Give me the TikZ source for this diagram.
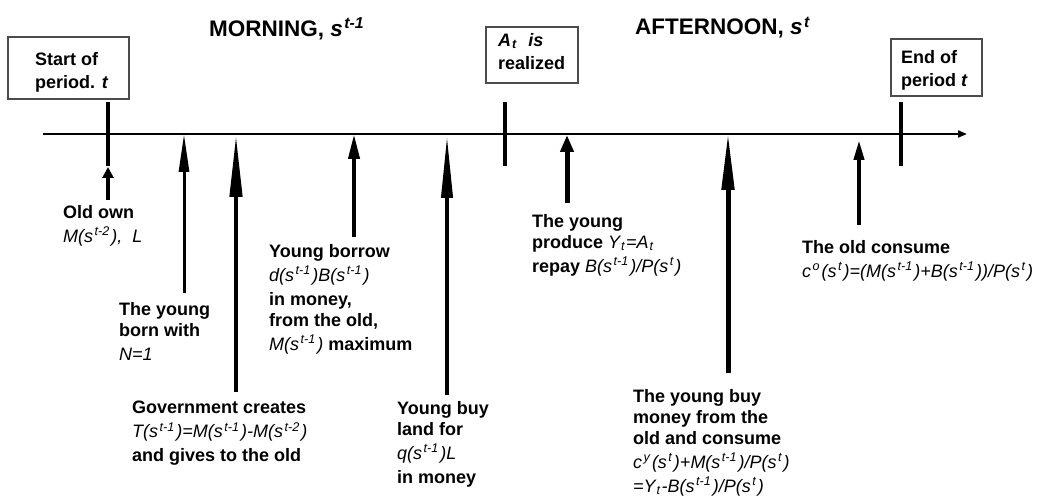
\documentclass[tikz,border=0pt]{standalone}
\usepackage{fontspec}
\setmainfont{Liberation Sans}
\usetikzlibrary{arrows.meta,positioning}

\newcommand{\tsup}[1]{\kern1.5pt\textsuperscript{#1}\kern1.5pt}
\newcommand{\tsub}[1]{\kern1pt\textsubscript{#1}\kern1pt}
\newcommand{\fm}[1]{{\mdseries\itshape #1}}

\begin{document}
\begin{tikzpicture}[x=1pt,y=-1pt,
  every node/.style={font=\fontsize{18}{21}\selectfont\bfseries},
  box/.style={draw=black!70,line width=1.2pt,inner sep=0pt},
  lbl/.style={align=left,anchor=north west,inner sep=0pt},
  head/.style={font=\fontsize{22.5}{24}\selectfont\bfseries,anchor=base west,inner sep=0pt},
  tickline/.style={line width=4pt},
  evt/.style n args={3}{line width=#1,-{Triangle[length=#2,width=#3]}}]

        \useasboundingbox (0,0) rectangle (1053,500);

        % titles
        \node[head] (morning) at (209,36.5) {MORNING, \textit{s}\tsup{\textit{t-1}}};
        \node[head] (afternoon) at (635,35) {AFTERNOON, \textit{s}\tsup{\textit{t}}};

        % boxes over the ticks
        \node[box,minimum width=121pt,minimum height=62pt] (startbox) at (68.5,68) {};
        \node[lbl] (start) at (35,52) {Start of\\[2pt]period. \textit{t}};
        \node[box,minimum width=92pt,minimum height=56pt] (realbox) at (532,55) {};
        \node[lbl] (real) at (498,33) {\textit{A}\tsub{\textit{t}}\ \ \textit{is}\\[2pt]realized};
        \node[box,minimum width=91pt,minimum height=57pt] (endbox) at (936.5,67.5) {};
        \node[lbl] (end) at (901,50) {End of\\[2pt]period \textit{t}};

        % time line
        \coordinate (axL) at (43,134);
        \coordinate (axR) at (967,134);
        \draw[line width=2pt,-{Triangle[length=9pt,width=7pt]}] (axL) -- (axR);
        \draw[tickline] (108,102) -- (108,166);
        \draw[tickline] (505,102) -- (505,166);
        \draw[tickline] (901,102) -- (901,166);

        % events
        \node[lbl] (own) at (63,205) {Old own\\[3pt]\fm{M(s\tsup{t-2}),\ \ L}};
        \node[lbl] (born) at (119,302) {The young\\born with\\[3pt]\fm{N=1}};
        \node[lbl] (gov) at (132,401) {Government creates\\[3pt]\fm{T(s\tsup{t-1})=M(s\tsup{t-1})-M(s\tsup{t-2})}\\[3pt]and gives to the old};
        \node[lbl] (borrow) at (269,244) {Young borrow\\[3pt]\fm{d(s\tsup{t-1})B(s\tsup{t-1})}\\[3pt]in money,\\from the old,\\[3pt]\fm{M(s\tsup{t-1})} maximum};
        \node[lbl] (land) at (397,401) {Young buy\\land for\\[3pt]\fm{q(s\tsup{t-1})L}\\[3pt]in money};
        \node[lbl] (produce) at (532,214) {The young\\produce \fm{Y\tsub{t}=A\tsub{t}}\\[3pt]repay \fm{B(s\tsup{t-1})/P(s\tsup{t})}};
        \node[lbl] (buy) at (633,389) {The young buy\\money from the\\old and consume\\[3pt]\fm{c\tsup{y}(s\tsup{t})+M(s\tsup{t-1})/P(s\tsup{t})}\\[3pt]\fm{=Y\tsub{t}-B(s\tsup{t-1})/P(s\tsup{t})}};
        \node[lbl] (consume) at (802,240) {The old consume\\[3pt]\fm{c\tsup{o}(s\tsup{t})=(M(s\tsup{t-1})+B(s\tsup{t-1}))/P(s\tsup{t})}};

        \coordinate (own0) at (108,200);     \coordinate (own1) at (108,167);
        \coordinate (born0) at (184,293);    \coordinate (born1) at (184,134);
        \coordinate (gov0) at (236,392);     \coordinate (gov1) at (236,134);
        \coordinate (borrow0) at (354,237);  \coordinate (borrow1) at (354,134);
        \coordinate (land0) at (447,395);    \coordinate (land1) at (447,135);
        \coordinate (produce0) at (567,203); \coordinate (produce1) at (567,135);
        \coordinate (buy0) at (728,373);     \coordinate (buy1) at (728,132);
        \coordinate (consume0) at (859,225); \coordinate (consume1) at (859,140);

        \draw[evt={4pt}{11pt}{11pt}] (own0) -- (own1);
        \draw[evt={3pt}{38pt}{10pt}] (born0) -- (born1);
        \draw[evt={4.5pt}{63pt}{12pt}] (gov0) -- (gov1);
        \draw[evt={4pt}{25pt}{11pt}] (borrow0) -- (borrow1);
        \draw[evt={4pt}{63pt}{11pt}] (land0) -- (land1);
        \draw[evt={5pt}{17pt}{13pt}] (produce0) -- (produce1);
        \draw[evt={5pt}{58pt}{12pt}] (buy0) -- (buy1);
        \draw[evt={4pt}{20pt}{10pt}] (consume0) -- (consume1);
      \end{tikzpicture}
\end{document}
